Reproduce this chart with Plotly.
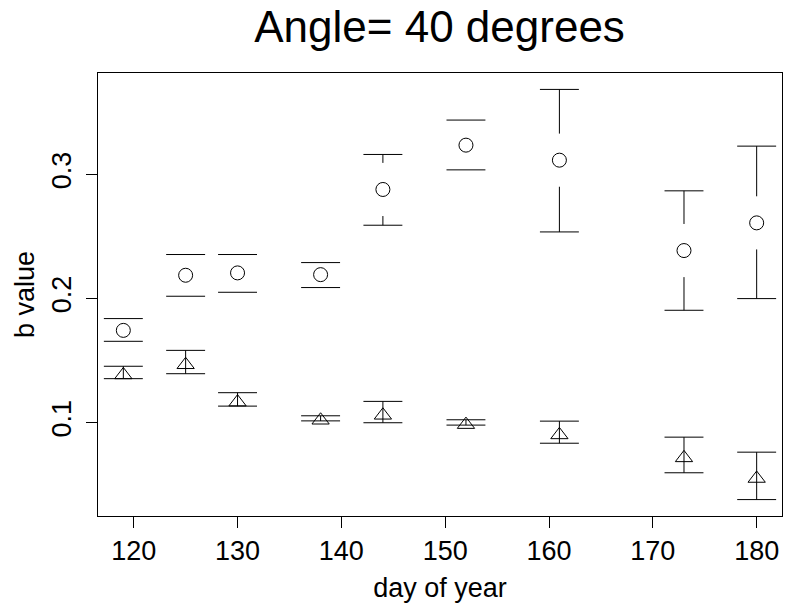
import plotly.graph_objects as go

days = [119, 125, 130, 138, 144, 152, 161, 173, 180]

circle_b = [0.1744, 0.2188, 0.2207, 0.2193, 0.2879, 0.3236, 0.3115, 0.2387, 0.2610]
circle_hi = [0.1839, 0.2355, 0.2355, 0.2290, 0.3161, 0.3438, 0.3685, 0.2868, 0.3228]
circle_lo = [0.1656, 0.2019, 0.2051, 0.2089, 0.2591, 0.3037, 0.2537, 0.1906, 0.2000]

tri_b = [0.1385, 0.1467, 0.1166, 0.1020, 0.1060, 0.0985, 0.0902, 0.0717, 0.0551]
tri_hi = [0.1455, 0.1583, 0.1242, 0.1056, 0.1172, 0.1024, 0.1013, 0.0884, 0.0763]
tri_lo = [0.1355, 0.1395, 0.1134, 0.1015, 0.1000, 0.0981, 0.0835, 0.0597, 0.0381]

x_ticks = [120, 130, 140, 150, 160, 170, 180]
y_ticks = [0.1, 0.2, 0.3]

# R-style axis ranges: data range extended by 4%
xmin, xmax = min(days), max(days)
ymin = min(circle_lo + tri_lo)
ymax = max(circle_hi + tri_hi)
xr = [xmin - 0.04 * (xmax - xmin), xmax + 0.04 * (xmax - xmin)]
yr = [ymin - 0.04 * (ymax - ymin), ymax + 0.04 * (ymax - ymin)]

CAP = 1.875   # half cap width (days)
GAP = 0.0214  # gap around circle symbol (b units)

fig = go.Figure()

# circle error bars with gap around the symbol (plotCI style)
sx, sy = [], []
for d, b, hi, lo in zip(days, circle_b, circle_hi, circle_lo):
    top = b + GAP
    bot = b - GAP
    if hi > top:
        sx += [d, d, None]
        sy += [hi, top, None]
    if lo < bot:
        sx += [d, d, None]
        sy += [lo, bot, None]
    sx += [d - CAP, d + CAP, None, d - CAP, d + CAP, None]
    sy += [hi, hi, None, lo, lo, None]
fig.add_trace(go.Scatter(x=sx, y=sy, mode="lines",
                         line=dict(color="black", width=1),
                         hoverinfo="skip", showlegend=False))

fig.add_trace(go.Scatter(
    x=days, y=circle_b, mode="markers",
    marker=dict(symbol="circle-open", size=14, color="black",
                line=dict(width=1, color="black")),
    showlegend=False))

# triangle error bars (no gap)
tx, ty = [], []
for d, b, hi, lo in zip(days, tri_b, tri_hi, tri_lo):
    tx += [d, d, None, d - CAP, d + CAP, None, d - CAP, d + CAP, None]
    ty += [lo, hi, None, hi, hi, None, lo, lo, None]
fig.add_trace(go.Scatter(x=tx, y=ty, mode="lines",
                         line=dict(color="black", width=1),
                         hoverinfo="skip", showlegend=False))

fig.add_trace(go.Scatter(
    x=days, y=tri_b, mode="markers",
    marker=dict(symbol="triangle-up-open", size=15, color="black",
                line=dict(width=1, color="black")),
    showlegend=False))

font_family = "Liberation Sans, Arial, sans-serif"

fig.update_layout(
    width=787, height=605,
    paper_bgcolor="white", plot_bgcolor="white",
    margin=dict(l=98, r=5, t=73, b=89),
    font=dict(family=font_family, color="black", size=27),
    title=dict(text="Angle= 40 degrees", x=0.5585, xanchor="center",
               y=1 - 27 / 605, yanchor="middle", yref="container",
               font=dict(size=44, family=font_family, color="black")),
    xaxis=dict(range=xr, tickvals=x_ticks, ticktext=[str(v) for v in x_ticks],
               showgrid=False, zeroline=False, showline=True, mirror=True,
               linecolor="black", linewidth=1, ticks="outside", ticklen=11,
               tickcolor="black", tickwidth=1, ticklabelstandoff=0,
               tickfont=dict(size=27),
               title=dict(text="day of year", font=dict(size=27), standoff=12)),
    yaxis=dict(range=yr, tickvals=y_ticks, ticktext=["0.1", "0.2", "0.3"],
               tickangle=-90,
               showgrid=False, zeroline=False, showline=True, mirror=True,
               linecolor="black", linewidth=1, ticks="outside", ticklen=11,
               tickcolor="black", tickwidth=1, ticklabelstandoff=4,
               tickfont=dict(size=27),
               title=dict(text="b value", font=dict(size=27), standoff=4)),
)

fig.write_html("out.html",
               config={"displayModeBar": False},
               post_script="document.body.style.margin='0px';"
                           "document.body.style.padding='0px';")
